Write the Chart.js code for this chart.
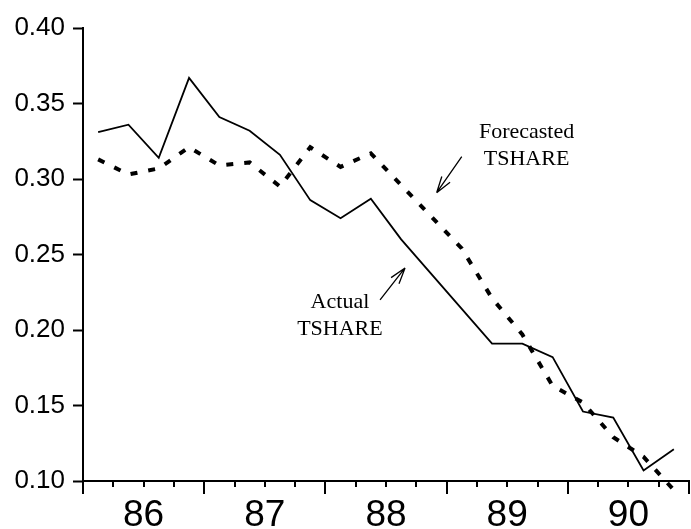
<!DOCTYPE html>
<html>
<head>
<meta charset="utf-8">
<script src="https://cdn.jsdelivr.net/npm/chart.js@4.4.1/dist/chart.umd.min.js"></script>
<style>
  html, body { margin: 0; padding: 0; background: #fff; }
  canvas { display: block; }
</style>
</head>
<body>
<canvas id="tshareChart" width="691" height="529"></canvas>
<script>
// quarters 1986:1 .. 1990:4
const quarters = ['86Q1','86Q2','86Q3','86Q4','87Q1','87Q2','87Q3','87Q4',
  '88Q1','88Q2','88Q3','88Q4','89Q1','89Q2','89Q3','89Q4','90Q1','90Q2','90Q3','90Q4'];
const actualTshare = [0.331, 0.336, 0.314, 0.367, 0.341, 0.332, 0.316, 0.286, 0.274, 0.287,
  0.260, 0.237, 0.214, 0.191, 0.191, 0.182, 0.146, 0.142, 0.107, 0.121];
const forecastTshare = [0.313, 0.303, 0.307, 0.321, 0.309, 0.311, 0.295, 0.321, 0.308, 0.317,
  0.296, 0.275, 0.254, 0.221, 0.197, 0.163, 0.152, 0.129, 0.116, 0.094];
const yearLabels = ['86', '87', '88', '89', '90'];
const yTicks = [0.10, 0.15, 0.20, 0.25, 0.30, 0.35, 0.40];

// quarter label -> decimal year at middle of quarter
const toX = (q) => parseInt(q.slice(0, 2)) + (parseInt(q.slice(3)) - 0.5) / 4;
const points = (vals) => vals.map((v, i) => ({ x: toX(quarters[i]), y: v }));

const firstYear = parseInt(yearLabels[0]);
const lastYear = parseInt(yearLabels[yearLabels.length - 1]) + 1;

// text + arrows, placed in data units
const notes = [
  { lines: ['Forecasted', 'TSHARE'], x: 89.66, y: [0.327, 0.309],
    arrow: { from: [89.125, 0.3148], to: [88.918, 0.2909] } },
  { lines: ['Actual', 'TSHARE'], x: 88.12, y: [0.2146, 0.1967],
    arrow: { from: [88.451, 0.2199], to: [88.657, 0.2411] } }
];

const notesPlugin = {
  id: 'notes',
  afterDraw(chart) {
    const { ctx, chartArea, scales: { x, y } } = chart;
    ctx.save();
    ctx.fillStyle = '#000';
    ctx.strokeStyle = '#000';

    // quarter ticks (short) and year ticks (long) on the x axis
    for (let q = 0; q <= (lastYear - firstYear) * 4; q++) {
      const px = x.getPixelForValue(firstYear + q / 4);
      const len = q % 4 === 0 ? 13 : 6;
      ctx.fillRect(Math.round(px) - 1, chartArea.bottom, 2, len);
    }

    ctx.font = '22px "Liberation Serif", "Times New Roman", serif';
    ctx.textAlign = 'center';
    ctx.textBaseline = 'alphabetic';
    notes.forEach(n => {
      n.lines.forEach((t, k) => ctx.fillText(t, x.getPixelForValue(n.x), y.getPixelForValue(n.y[k])));
      const x1 = x.getPixelForValue(n.arrow.from[0]), y1 = y.getPixelForValue(n.arrow.from[1]);
      const x2 = x.getPixelForValue(n.arrow.to[0]), y2 = y.getPixelForValue(n.arrow.to[1]);
      const ang = Math.atan2(y1 - y2, x1 - x2);
      ctx.lineWidth = 1.3;
      ctx.beginPath();
      ctx.moveTo(x1, y1);
      ctx.lineTo(x2, y2);
      [-0.3, 0.3].forEach(d => {
        ctx.moveTo(x2, y2);
        ctx.lineTo(x2 + 17 * Math.cos(ang + d), y2 + 17 * Math.sin(ang + d));
      });
      ctx.stroke();
    });
    ctx.restore();
  }
};

const ctx = document.getElementById('tshareChart');
const tshareChart = new Chart(ctx, {
  type: 'line',
  data: {
    datasets: [{
      label: 'Actual TSHARE',
      data: points(actualTshare),
      borderColor: '#000',
      borderWidth: 1.8,
      pointRadius: 0,
      tension: 0,
      clip: false
    }, {
      label: 'Forecasted TSHARE',
      data: points(forecastTshare),
      borderColor: '#000',
      borderWidth: 4,
      borderDash: [7, 11],
      pointRadius: 0,
      tension: 0,
      clip: false
    }]
  },
  plugins: [notesPlugin],
  options: {
    responsive: false,
    animation: false,
    devicePixelRatio: 1,
    layout: { padding: { left: 0, right: 2, top: 28, bottom: 0 } },
    plugins: {
      legend: { display: false },
      tooltip: { enabled: false }
    },
    scales: {
      x: {
        type: 'linear',
        min: firstYear,
        max: lastYear,
        afterBuildTicks: (scale) => {
          scale.ticks = yearLabels.map((l, i) => ({ value: firstYear + i + 0.5 }));
        },
        afterFit: (scale) => { scale.height = 48; },
        border: { display: true, color: '#000', width: 2 },
        grid: {
          display: true,
          drawOnChartArea: false,
          drawTicks: true,
          tickLength: 13,
          tickColor: 'rgba(0,0,0,0)'
        },
        ticks: {
          autoSkip: false,
          maxRotation: 0,
          padding: 0,
          color: '#000',
          font: { family: '"Liberation Sans Narrow", "Arial Narrow", "Liberation Sans", sans-serif', size: 37 },
          callback: (v, i) => yearLabels[i]
        }
      },
      y: {
        min: yTicks[0],
        max: yTicks[yTicks.length - 1],
        afterBuildTicks: (scale) => { scale.ticks = yTicks.map(v => ({ value: v })); },
        afterFit: (scale) => { scale.width = 83; },
        border: { display: true, color: '#000', width: 2 },
        grid: {
          display: true,
          drawOnChartArea: false,
          drawTicks: true,
          tickLength: 10,
          tickColor: '#000',
          tickWidth: 2
        },
        ticks: {
          padding: 8,
          color: '#000',
          font: { family: '"Liberation Sans", Arial, sans-serif', size: 26 },
          callback: (v) => v.toFixed(2)
        }
      }
    }
  }
});
</script>
</body>
</html>
